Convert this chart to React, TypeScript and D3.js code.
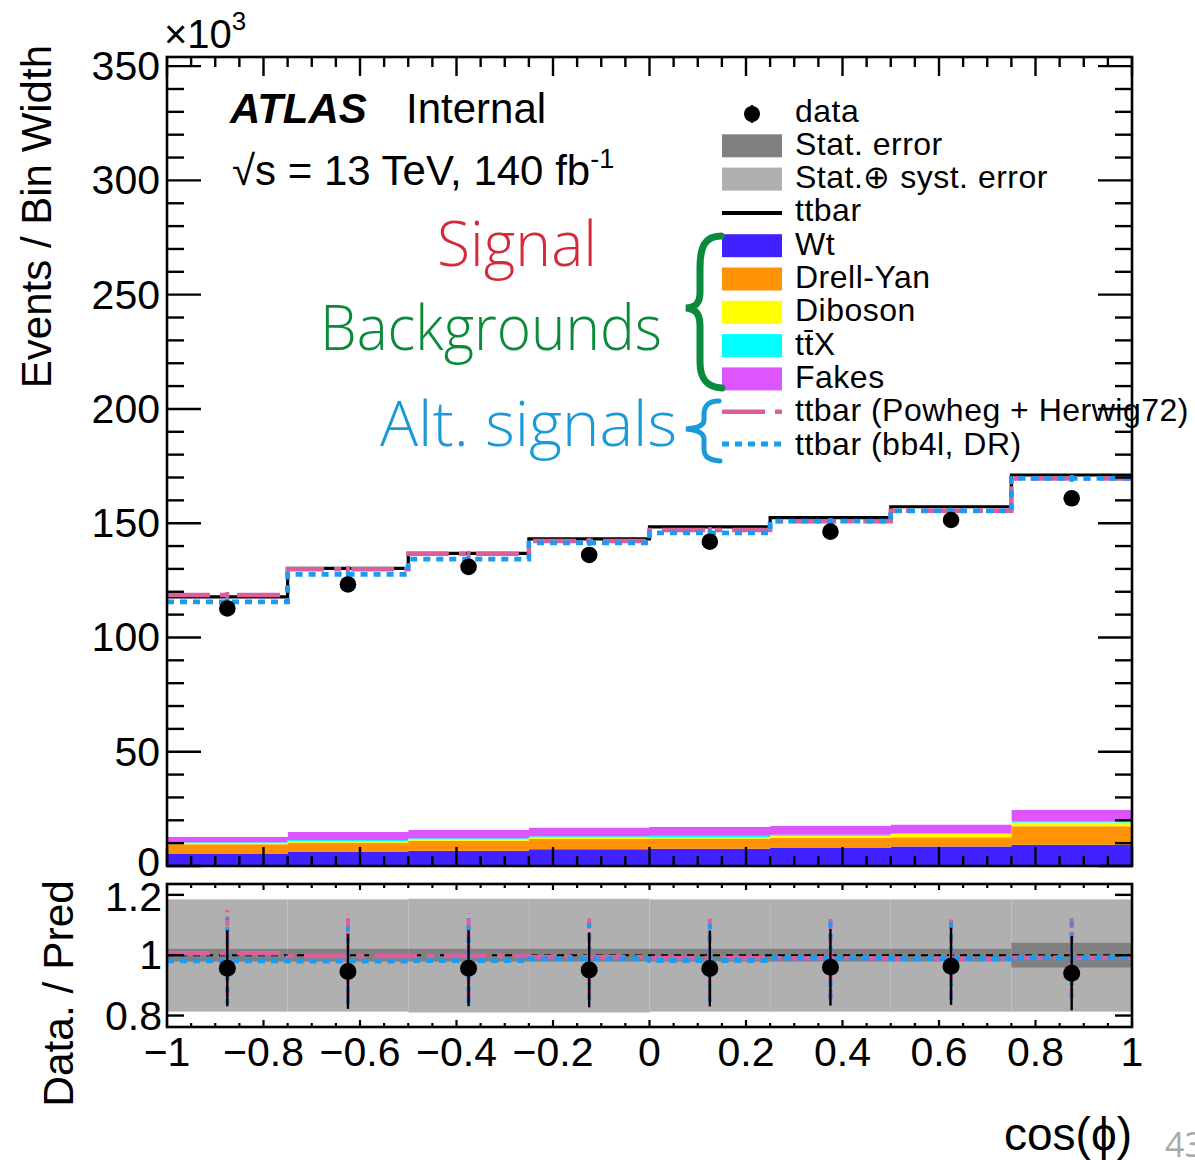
import React from 'react';
import * as d3 from 'd3';

// ---------------- data ----------------
const binEdges = [-1, -0.75, -0.5, -0.25, 0, 0.25, 0.5, 0.75, 1];
const wtValues = [5.25, 6.1, 6.7, 7.3, 7.5, 7.9, 8.5, 9.3];
const drellYanValues = [4.25, 4.1, 4.4, 4.5, 4.4, 4.5, 4.1, 8.1];
const dibosonValues = [0.55, 0.6, 0.6, 0.7, 0.7, 0.8, 1.4, 1.6];
const ttxValues = [0.3, 0.6, 0.4, 0.5, 0.6, 0.5, 0.4, 0.7];
const fakesValues = [2.45, 3.5, 3.6, 3.8, 3.9, 3.8, 3.8, 4.9];
const ttbarValues = [105.0, 115.3, 121.1, 126.3, 131.3, 134.9, 139.0, 146.5];
const dataValues = [112.7, 123.2, 130.9, 136.1, 141.9, 146.3, 151.4, 160.9];
const powhegHerwigTotal = [118.6, 129.9, 136.6, 142.2, 147.0, 150.9, 155.4, 169.6];
const bb4lTotal = [115.6, 127.6, 134.3, 141.4, 145.8, 150.9, 155.4, 169.6];
const altMainErr = [1.3, 1.3, 1.3, 1.3, 1.3, 1.3, 1.3, 1.4];
const statRelErr = [0.021, 0.021, 0.021, 0.021, 0.021, 0.021, 0.021, 0.041];
const totalRelErrUp = [0.185, 0.185, 0.187, 0.187, 0.185, 0.185, 0.185, 0.185];
const totalRelErrDown = [0.187, 0.187, 0.19, 0.19, 0.187, 0.187, 0.187, 0.187];
const dataRatioErr = [0.126, 0.124, 0.126, 0.124, 0.126, 0.127, 0.128, 0.123];
const altRatioErr = [0.143, 0.14, 0.14, 0.137, 0.135, 0.135, 0.135, 0.133];

const yMainTicks = [0, 50, 100, 150, 200, 250, 300, 350];
const yRatioTicks = [0.8, 1, 1.2];
const yRatioTickLabels = ['0.8', '1', '1.2'];
const xTicks = [-1, -0.8, -0.6, -0.4, -0.2, 0, 0.2, 0.4, 0.6, 0.8, 1];
const xTickLabels = ['\u22121', '\u22120.8', '\u22120.6', '\u22120.4', '\u22120.2', '0', '0.2', '0.4', '0.6', '0.8', '1'];

const stackKeys = ['wt', 'dy', 'diboson', 'ttx', 'fakes', 'ttbar'];
const stackColors: Record<string, string> = {
  wt: '#3f22ff',
  dy: '#ff9305',
  diboson: '#ffff00',
  ttx: '#00ffff',
  fakes: '#dc55ff',
  ttbar: '#ffffff',
};

const legendLabels = [
  'data',
  'Stat. error',
  'Stat.\u2295 syst. error',
  'ttbar',
  'Wt',
  'Drell-Yan',
  'Diboson',
  'tt\u0304X',
  'Fakes',
  'ttbar (Powheg + Herwig72)',
  'ttbar (bb4l, DR)',
];
const legendKinds = ['marker', 'box', 'box', 'line', 'box', 'box', 'box', 'box', 'box', 'dashdot', 'dotted'];
const legendColors = ['#000', '#808080', '#b0b0b0', '#000', '#3f22ff', '#ff9305', '#ffff00', '#00ffff', '#dc55ff', '#dc5f9c', '#1a9cf2'];

const PINK = '#dc5f9c';
const LBLUE = '#1a9cf2';
const FONT = '"Liberation Sans", Arial, Helvetica, sans-serif';
const HAND = '"Open Sans", sans-serif';

export default function App() {
  const W = 1195;
  const H = 1160;
  const left = 167;
  const right = 1132;
  const mainTop = 57;
  const mainBottom = 866;
  const ratioTop = 884;
  const ratioBottom = 1027;

  const x = d3.scaleLinear().domain([-1, 1]).range([left, right]);
  const y = d3.scaleLinear().domain([0, 354]).range([mainBottom, mainTop]);
  const yr = d3.scaleLinear().domain([0.762, 1.236]).range([ratioBottom, ratioTop]);

  const nb = dataValues.length;
  const rows = d3.range(nb).map((i) => ({
    wt: wtValues[i],
    dy: drellYanValues[i],
    diboson: dibosonValues[i],
    ttx: ttxValues[i],
    fakes: fakesValues[i],
    ttbar: ttbarValues[i],
  }));
  const stacked = d3.stack<any>().keys(stackKeys)(rows);
  const totals = rows.map((r) => stackKeys.reduce((s, k) => s + (r as any)[k], 0));
  const centers = d3.range(nb).map((i) => (binEdges[i] + binEdges[i + 1]) / 2);

  const idx = (i: number) => Math.min(i, nb - 1);

  const stepArea = (lo: number[], hi: number[], ys: any) =>
    d3
      .area<number>()
      .x((e) => x(e))
      .y0((_, i) => ys(lo[idx(i)]))
      .y1((_, i) => ys(hi[idx(i)]))
      .curve(d3.curveStepAfter)(binEdges) as string;

  const stepLine = (vals: number[], ys: any) =>
    d3
      .line<number>()
      .x((e) => x(e))
      .y((_, i) => ys(vals[idx(i)]))
      .curve(d3.curveStepAfter)(binEdges) as string;

  const ratioPH = powhegHerwigTotal.map((v, i) => v / totals[i]);
  const ratioBB = bb4lTotal.map((v, i) => v / totals[i]);
  const ratioData = dataValues.map((v, i) => v / totals[i]);

  const majorX = xTicks;
  const minorX = d3.range(-1, 1.0001, 0.05).filter((v) => !majorX.some((m) => Math.abs(m - v) < 1e-6));
  const minorYMain = d3.range(0, 354, 10).filter((v) => v % 50 !== 0);

  const legX0 = 722;
  const legX1 = 782;
  const legText = 795;
  const legRow0 = 110;
  const legStep = 33.3;

  return (
    <svg
      width={W}
      height={H}
      style={{ position: 'absolute', left: 0, top: 0, background: '#fff', display: 'block' }}
      fontFamily={FONT}
    >
      <defs>
        <clipPath id="mainClip">
          <rect x={left} y={mainTop} width={right - left} height={mainBottom - mainTop} />
        </clipPath>
        <clipPath id="ratioClip">
          <rect x={left} y={ratioTop} width={right - left} height={ratioBottom - ratioTop} />
        </clipPath>
      </defs>
      <rect x={0} y={0} width={W} height={H} fill="#fff" />

      {/* ---------- main panel ---------- */}
      <g clipPath="url(#mainClip)">
        {stacked.map((layer) => (
          <path
            key={layer.key}
            d={stepArea(layer.map((d) => d[0]), layer.map((d) => d[1]), y)}
            fill={stackColors[layer.key]}
            stroke="none"
          />
        ))}
        <path d={stepLine(totals, y)} fill="none" stroke="#000" strokeWidth={3.2} />
        <path d={stepLine(powhegHerwigTotal, y)} fill="none" stroke={PINK} strokeWidth={4.5} strokeDasharray="43 10 7 10" />
        <path d={stepLine(bb4lTotal, y)} fill="none" stroke={LBLUE} strokeWidth={4.8} strokeDasharray="7 6" />
        {centers.map((c, i) => (
          <g key={'ae' + i}>
            <line x1={x(c)} x2={x(c)} y1={y(powhegHerwigTotal[i] - altMainErr[i])} y2={y(powhegHerwigTotal[i] + altMainErr[i])} stroke={PINK} strokeWidth={4} />
            <line x1={x(c)} x2={x(c)} y1={y(bb4lTotal[i] - altMainErr[i])} y2={y(bb4lTotal[i] + altMainErr[i])} stroke={LBLUE} strokeWidth={4} />
          </g>
        ))}
        {centers.map((c, i) => (
          <circle key={'d' + i} cx={x(c)} cy={y(dataValues[i])} r={8.3} fill="#000" />
        ))}
      </g>

      {/* main frame and ticks */}
      <rect x={left} y={mainTop} width={right - left} height={mainBottom - mainTop} fill="none" stroke="#000" strokeWidth={2.6} />
      {majorX.map((t) => (
        <g key={'mxt' + t} stroke="#000" strokeWidth={2.4}>
          <line x1={x(t)} x2={x(t)} y1={mainBottom} y2={mainBottom - 19} />
          <line x1={x(t)} x2={x(t)} y1={mainTop} y2={mainTop + 19} />
        </g>
      ))}
      {minorX.map((t) => (
        <g key={'mnx' + t} stroke="#000" strokeWidth={2.4}>
          <line x1={x(t)} x2={x(t)} y1={mainBottom} y2={mainBottom - 10} />
          <line x1={x(t)} x2={x(t)} y1={mainTop} y2={mainTop + 10} />
        </g>
      ))}
      {yMainTicks.map((t) => (
        <g key={'myt' + t} stroke="#000" strokeWidth={2.4}>
          <line x1={left} x2={left + 34} y1={y(t)} y2={y(t)} />
          <line x1={right} x2={right - 34} y1={y(t)} y2={y(t)} />
        </g>
      ))}
      {minorYMain.map((t) => (
        <g key={'mny' + t} stroke="#000" strokeWidth={2.4}>
          <line x1={left} x2={left + 17} y1={y(t)} y2={y(t)} />
          <line x1={right} x2={right - 17} y1={y(t)} y2={y(t)} />
        </g>
      ))}
      {yMainTicks.map((t) => (
        <text key={'myl' + t} x={160} y={y(t) + (t === 0 ? 10 : 14)} fontSize={41} textAnchor="end" fill="#000">
          {t}
        </text>
      ))}
      <text x={164} y={48} fontSize={40} fill="#000">
        {'\u00d710'}
        <tspan fontSize={26} dy={-18}>3</tspan>
      </text>
      <text transform="translate(51,45) rotate(-90)" fontSize={42} textAnchor="end" fill="#000">
        Events / Bin Width
      </text>

      {/* ATLAS label */}
      <text x={230} y={123} fontSize={42} fontWeight="bold" fontStyle="italic" fill="#000">
        ATLAS
      </text>
      <text x={406} y={123} fontSize={42} fill="#000">
        Internal
      </text>
      <text x={232} y={185} fontSize={42} fill="#000">
        {'\u221As = 13 TeV, 140 fb'}
        <tspan fontSize={27} dy={-17}>-1</tspan>
      </text>

      {/* legend */}
      {legendLabels.map((lab, i) => {
        const cy = legRow0 + i * legStep;
        const kind = legendKinds[i];
        const col = legendColors[i];
        const mid = (legX0 + legX1) / 2;
        return (
          <g key={'leg' + i}>
            {kind === 'marker' && (
              <g>
                <line x1={mid} x2={mid} y1={cy - 5} y2={cy + 13} stroke="#000" strokeWidth={2.4} />
                <circle cx={mid} cy={cy + 4} r={8} fill="#000" />
              </g>
            )}
            {kind === 'box' && <rect x={legX0} y={cy - 9} width={legX1 - legX0} height={23} fill={col} />}
            {kind === 'line' && <line x1={legX0} x2={legX1} y1={cy + 3} y2={cy + 3} stroke="#000" strokeWidth={4} />}
            {kind === 'dashdot' && (
              <line x1={legX0} x2={legX1} y1={cy + 2} y2={cy + 2} stroke={col} strokeWidth={4.5} strokeDasharray="43 10 7 10" />
            )}
            {kind === 'dotted' && (
              <line x1={legX0} x2={legX1} y1={cy + 1} y2={cy + 1} stroke={col} strokeWidth={4.8} strokeDasharray="7 6" />
            )}
            <text x={legText} y={cy + 11.5} fontSize={32} letterSpacing={0.5} fill="#000">
              {lab}
            </text>
          </g>
        );
      })}

      {/* handwritten annotations */}
      <text x={437} y={266} fontSize={62} fontWeight={300} fontFamily={HAND} fill="#d42a3a" textLength={160} lengthAdjust="spacingAndGlyphs">
        Signal
      </text>
      <text x={320} y={350} fontSize={62} fontWeight={300} fontFamily={HAND} fill="#0b8a3c" textLength={342} lengthAdjust="spacingAndGlyphs">
        Backgrounds
      </text>
      <text x={380} y={446} fontSize={62} fontWeight={300} fontFamily={HAND} fill="#1a9ad8" textLength={297} lengthAdjust="spacingAndGlyphs">
        Alt. signals
      </text>
      <path
        d="M 721 236 C 704 236, 700 248, 700 268 L 700 292 C 700 303, 696 307, 686 308 C 696 309, 700 314, 700 326 L 700 362 C 700 378, 706 387, 722 388"
        fill="none"
        stroke="#0b8a3c"
        strokeWidth={7}
        strokeLinecap="round"
      />
      <path
        d="M 719 401 C 707 401, 704 407, 704 415 L 704 420 C 704 426, 697 428, 686 429 C 697 430, 704 433, 704 439 L 704 449 C 704 457, 709 460, 720 461"
        fill="none"
        stroke="#1a9ad8"
        strokeWidth={5}
        strokeLinecap="round"
      />

      {/* ---------- ratio panel ---------- */}
      <g clipPath="url(#ratioClip)">
        {centers.map((_, i) => (
          <rect
            key={'sy' + i}
            x={x(binEdges[i])}
            width={x(binEdges[i + 1]) - x(binEdges[i])}
            y={yr(1 + totalRelErrUp[i])}
            height={yr(1 - totalRelErrDown[i]) - yr(1 + totalRelErrUp[i])}
            fill="#b0b0b0"
          />
        ))}
        {centers.map((_, i) => (
          <rect
            key={'st' + i}
            x={x(binEdges[i])}
            width={x(binEdges[i + 1]) - x(binEdges[i])}
            y={yr(1 + statRelErr[i])}
            height={yr(1 - statRelErr[i]) - yr(1 + statRelErr[i])}
            fill="#808080"
          />
        ))}
        <line x1={left} x2={right} y1={yr(1)} y2={yr(1)} stroke="#000" strokeWidth={2} strokeDasharray="7 6" />
        <path d={stepLine(ratioPH, yr)} fill="none" stroke={PINK} strokeWidth={4.5} strokeDasharray="43 10 7 10" />
        <path d={stepLine(ratioBB, yr)} fill="none" stroke={LBLUE} strokeWidth={4.8} strokeDasharray="7 6" />
        {centers.map((c, i) => (
          <g key={'rae' + i}>
            <line x1={x(c)} x2={x(c)} y1={yr(ratioPH[i] - altRatioErr[i])} y2={yr(ratioPH[i] + altRatioErr[i])} stroke={PINK} strokeWidth={4} strokeDasharray="10 4" />
            <line x1={x(c)} x2={x(c)} y1={yr(ratioBB[i] - altRatioErr[i])} y2={yr(ratioBB[i] + altRatioErr[i])} stroke={LBLUE} strokeWidth={4} strokeDasharray="5 7" />
          </g>
        ))}
        {centers.map((c, i) => (
          <g key={'rd' + i}>
            <line x1={x(c)} x2={x(c)} y1={yr(ratioData[i] - dataRatioErr[i])} y2={yr(ratioData[i] + dataRatioErr[i])} stroke="#000" strokeWidth={2.4} />
            <circle cx={x(c)} cy={yr(ratioData[i])} r={8.5} fill="#000" />
          </g>
        ))}
      </g>
      <rect x={left} y={ratioTop} width={right - left} height={ratioBottom - ratioTop} fill="none" stroke="#000" strokeWidth={2.6} />
      {majorX.map((t) => (
        <g key={'rxt' + t} stroke="#000" strokeWidth={2.2}>
          <line x1={x(t)} x2={x(t)} y1={ratioBottom} y2={ratioBottom - 7} />
          <line x1={x(t)} x2={x(t)} y1={ratioTop} y2={ratioTop + 6} />
        </g>
      ))}
      {minorX.map((t) => (
        <g key={'rnx' + t} stroke="#000" strokeWidth={2.2}>
          <line x1={x(t)} x2={x(t)} y1={ratioBottom} y2={ratioBottom - 4} />
          <line x1={x(t)} x2={x(t)} y1={ratioTop} y2={ratioTop + 4} />
        </g>
      ))}
      {yRatioTicks.map((t) => (
        <g key={'ryt' + t} stroke="#000" strokeWidth={2.4}>
          <line x1={left} x2={left + 17} y1={yr(t)} y2={yr(t)} />
          <line x1={right} x2={right - 17} y1={yr(t)} y2={yr(t)} />
        </g>
      ))}
      {yRatioTicks.map((t, i) => (
        <text key={'ryl' + t} x={162} y={yr(t) + (t > 1.1 ? 16 : 14)} fontSize={41} textAnchor="end" fill="#000">
          {yRatioTickLabels[i]}
        </text>
      ))}
      {xTicks.map((t, i) => (
        <text key={'xl' + t} x={x(t)} y={1066} fontSize={41} textAnchor="middle" fill="#000">
          {xTickLabels[i]}
        </text>
      ))}
      <text transform="translate(73,880) rotate(-90)" fontSize={42.5} textAnchor="end" fill="#000">
        Data. / Pred
      </text>
      <text x={1132} y={1150} fontSize={46} textAnchor="end" fill="#000">
        {'cos(\u03d5)'}
      </text>
      <text x={1165} y={1157} fontSize={34} fill="#aaaaaa" fontFamily={HAND}>
        43
      </text>
    </svg>
  );
}
